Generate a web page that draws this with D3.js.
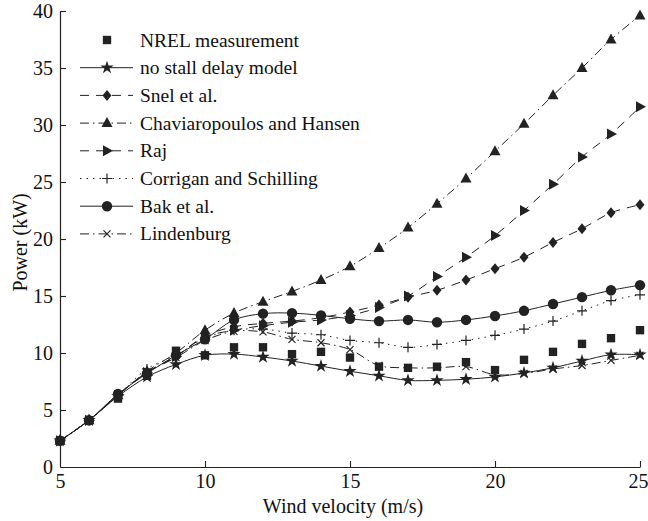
<!DOCTYPE html>
<html>
<head>
<meta charset="utf-8">
<script src="https://cdn.jsdelivr.net/npm/d3@7"></script>
</head>
<body style="margin:0">
<svg id="chart" width="648" height="521" font-family="Liberation Serif"></svg>
<script>
// wind speeds (m/s)
const windSpeed = d3.range(5, 26);

// power (kW)
const nrel = [2.3, 4.1, 6.0, 8.0, 10.2, 9.8, 10.5, 10.5, 9.9, 10.1, 9.6, 8.8, 8.7, 8.8, 9.2, 8.5, 9.4, 10.1, 10.8, 11.3, 12.0];
const noStall = [2.3, 4.1, 6.2, 7.9, 9.0, 9.8, 9.9, 9.65, 9.3, 8.85, 8.4, 8.0, 7.6, 7.6, 7.7, 7.9, 8.25, 8.7, 9.3, 9.85, 9.85];
const snel = [2.3, 4.1, 6.3, 8.3, 9.7, 11.5, 12.3, 12.6, 12.8, 13.1, 13.6, 14.2, 14.9, 15.5, 16.4, 17.4, 18.4, 19.7, 20.9, 22.3, 23.0];
const chav = [2.3, 4.1, 6.3, 8.4, 10.0, 12.0, 13.5, 14.5, 15.4, 16.4, 17.6, 19.2, 21.0, 23.1, 25.3, 27.7, 30.1, 32.6, 35.0, 37.5, 39.6];
const raj = [2.3, 4.1, 6.3, 8.3, 9.7, 11.4, 12.0, 12.4, 12.7, 12.9, 13.3, 14.0, 15.0, 16.7, 18.4, 20.3, 22.5, 24.8, 27.2, 29.2, 31.6];
const corrigan = [2.3, 4.1, 6.3, 8.6, 9.8, 11.3, 12.0, 12.1, 11.75, 11.6, 11.1, 10.9, 10.5, 10.75, 11.1, 11.55, 12.1, 12.8, 13.7, 14.6, 15.1];
const bak = [2.3, 4.1, 6.4, 8.2, 9.8, 11.2, 12.9, 13.45, 13.5, 13.3, 13.0, 12.8, 12.9, 12.7, 12.9, 13.25, 13.7, 14.3, 14.9, 15.5, 15.95];
const lindenburg = [2.3, 4.1, 6.3, 8.3, 9.6, 11.1, 11.9, 11.85, 11.2, 10.9, 10.3, 8.9, 8.7, 8.7, 8.8, 8.1, 8.2, 8.6, 8.9, 9.35, 9.8];

const xTicks = [5, 10, 15, 20, 25];
const yTicks = [0, 5, 10, 15, 20, 25, 30, 35, 40];

const series = [
  { name: "NREL measurement", values: nrel, dash: null, noLine: true, marker: "square" },
  { name: "no stall delay model", values: noStall, dash: null, marker: "star" },
  { name: "Snel et al.", values: snel, dash: "9,7", marker: "diamond" },
  { name: "Chaviaropoulos and Hansen", values: chav, dash: "9,4,1.5,4", marker: "triangle" },
  { name: "Raj", values: raj, dash: "9,7", marker: "rtriangle" },
  { name: "Corrigan and Schilling", values: corrigan, dash: "1.5,5", marker: "plus" },
  { name: "Bak et al.", values: bak, dash: null, marker: "circle" },
  { name: "Lindenburg", values: lindenburg, dash: "9,4,1.5,4", marker: "cross" }
];

const fs = 20;

const svg = d3.select("#chart");
const margin = { left: 60, right: 8, top: 11, bottom: 54 };
const W = 648, H = 521;

const x = d3.scaleLinear().domain([5, 25]).range([margin.left, W - margin.right]);
const y = d3.scaleLinear().domain([0, 40]).range([H - margin.bottom, margin.top]);

const ink = "#222";

// axes, ticks pointing inward
const xAxis = svg.append("g")
  .attr("transform", `translate(0,${y(0)})`)
  .call(d3.axisBottom(x).tickValues(xTicks).tickSizeInner(-6).tickSizeOuter(0).tickPadding(7));
const yAxis = svg.append("g")
  .attr("transform", `translate(${x(5)},0)`)
  .call(d3.axisLeft(y).tickValues(yTicks).tickSizeInner(-6).tickSizeOuter(0).tickPadding(7));

[xAxis, yAxis].forEach((g) => {
  g.attr("font-family", null).attr("font-size", fs);
  g.select(".domain").attr("stroke", ink).attr("stroke-width", 1.2);
  g.selectAll(".tick line").attr("stroke", ink).attr("stroke-width", 1.1);
  g.selectAll(".tick text").attr("fill", "#111");
});
// no tick at the origin
xAxis.selectAll(".tick").filter((d) => d === 5).select("line").remove();
yAxis.selectAll(".tick").filter((d) => d === 0).select("line").remove();
// last label sits against the right edge
xAxis.selectAll(".tick").filter((d) => d === 25).select("text").attr("dx", -2);

svg.append("text")
  .attr("x", (x(5) + x(25)) / 2 - 7)
  .attr("y", 513)
  .attr("text-anchor", "middle")
  .attr("font-size", fs).attr("fill", "#111")
  .text("Wind velocity (m/s)");

svg.append("text")
  .attr("transform", `translate(27,${y(19.7)}) rotate(-90)`)
  .attr("text-anchor", "middle")
  .attr("font-size", fs).attr("fill", "#111")
  .text("Power (kW)");

// marker shapes
const drawMarker = (g, type, cx, cy) => {
  const sym = (t, size) => g.append("path")
    .attr("d", d3.symbol().type(t).size(size)())
    .attr("transform", `translate(${cx},${cy})`)
    .attr("fill", ink);
  if (type === "square") sym(d3.symbolSquare, 70);
  else if (type === "star") sym(d3.symbolStar, 55);
  else if (type === "diamond") {
    g.append("path").attr("d", "M0,-5.5L4.5,0L0,5.5L-4.5,0Z")
      .attr("transform", `translate(${cx},${cy})`).attr("fill", ink);
  }
  else if (type === "triangle") {
    g.append("path").attr("d", "M0,-6L5.5,4L-5.5,4Z")
      .attr("transform", `translate(${cx},${cy})`).attr("fill", ink);
  }
  else if (type === "rtriangle") {
    g.append("path").attr("d", "M6,0L-4,-5.5L-4,5.5Z")
      .attr("transform", `translate(${cx},${cy})`).attr("fill", ink);
  }
  else if (type === "circle") {
    g.append("circle").attr("cx", cx).attr("cy", cy).attr("r", 5.2).attr("fill", ink);
  }
  else if (type === "plus") {
    g.append("path").attr("d", "M-5,0H5M0,-5V5")
      .attr("transform", `translate(${cx},${cy})`).attr("stroke", ink).attr("stroke-width", 1.2);
  }
  else if (type === "cross") {
    g.append("path").attr("d", "M-3.5,-3.5L3.5,3.5M-3.5,3.5L3.5,-3.5")
      .attr("transform", `translate(${cx},${cy})`).attr("stroke", ink).attr("stroke-width", 1.2);
  }
};

const line = d3.line()
  .x((d) => x(d.v))
  .y((d) => y(d.p))
  .curve(d3.curveCatmullRom.alpha(0.5));

const plot = svg.append("g");

series.forEach((s) => {
  const pts = windSpeed.map((v, i) => ({ v: v, p: s.values[i] }));
  if (!s.noLine) {
    plot.append("path")
      .datum(pts)
      .attr("d", line)
      .attr("fill", "none")
      .attr("stroke", ink)
      .attr("stroke-width", 1)
      .attr("stroke-dasharray", s.dash);
  }
});

// markers drawn after lines; measurement last so it sits on top
series.slice(1).concat(series.slice(0, 1)).forEach((s) => {
  const g = plot.append("g");
  windSpeed.forEach((v, i) => drawMarker(g, s.marker, x(v), y(s.values[i])));
});

// legend
const legend = svg.append("g");
series.forEach((s, i) => {
  const ly = 40 + i * 27.7;
  if (!s.noLine) {
    legend.append("line")
      .attr("x1", 80).attr("x2", 133)
      .attr("y1", ly).attr("y2", ly)
      .attr("stroke", ink).attr("stroke-width", 1)
      .attr("stroke-dasharray", s.dash);
  }
  drawMarker(legend, s.marker, 107, ly);
  legend.append("text")
    .attr("x", 140).attr("y", ly + 6.5)
    .attr("font-size", 19.5).attr("fill", "#111")
    .text(s.name);
});

svg.selectAll("text").attr("font-family", "Liberation Serif");
</script>
</body>
</html>
